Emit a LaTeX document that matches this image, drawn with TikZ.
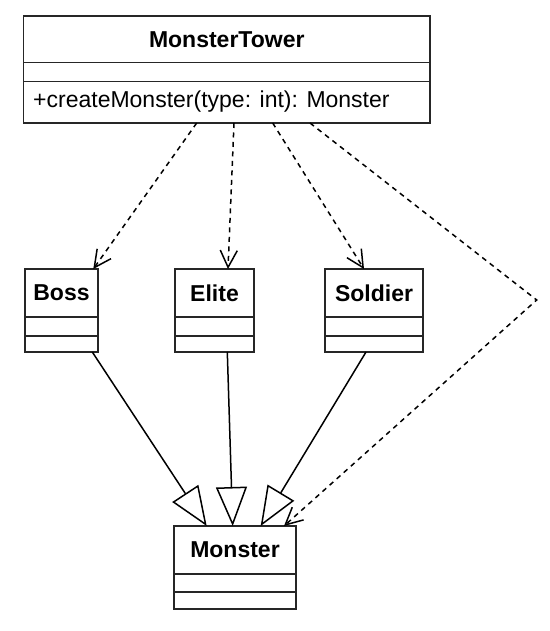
\documentclass[tikz,border=0pt]{standalone}
\usepackage{fontspec}
\setmainfont{Liberation Sans}
\usetikzlibrary{arrows.meta,calc}
\begin{document}
\begin{tikzpicture}[x=1pt,y=-1pt,
  box/.style={draw=black!85,line width=1.7pt,fill=white,inner sep=0pt,outer sep=0pt},
  sep/.style={draw=black!85,line width=1.7pt},
  title/.style={font=\fontsize{23}{27}\selectfont\bfseries,inner sep=0pt},
  member/.style={font=\fontsize{23}{27}\selectfont,inner sep=0pt,anchor=west},
  dep/.style={line width=1.5pt,dash pattern=on 5pt off 4.5pt,-{Straight Barb[length=17pt,width=17pt,line width=1.5pt]}},
  gen/.style={line width=1.5pt,-{Triangle[open,length=39pt,width=31pt,line width=1.5pt,fill=white]}}]
\useasboundingbox (0,0) rectangle (549,631);
% MonsterTower
\node[box,minimum width=406.5pt,minimum height=107pt] (tower) at (226.75,69.5) {};
\draw[sep] (23.5,62.5) -- (430,62.5) (23.5,81.5) -- (430,81.5);
\node[title] (towerT) at (226.75,40) {MonsterTower};
\node[member] (towerM) at (33,102) {+createMonster(type: int): Monster};
% Boss
\node[box,minimum width=73pt,minimum height=83pt] (boss) at (61.5,310.5) {};
\draw[sep] (25,316.7) -- (98,316.7) (25,335.7) -- (98,335.7);
\node[title] (bossT) at (61.5,293) {Boss};
% Elite
\node[box,minimum width=79pt,minimum height=83pt] (elite) at (214.5,310.5) {};
\draw[sep] (175,316.7) -- (254,316.7) (175,335.7) -- (254,335.7);
\node[title] (eliteT) at (214.5,293) {Elite};
% Soldier
\node[box,minimum width=98pt,minimum height=83pt] (soldier) at (374,310.5) {};
\draw[sep] (325,316.7) -- (423,316.7) (325,335.7) -- (423,335.7);
\node[title] (soldierT) at (374,293) {Soldier};
% Monster
\node[box,minimum width=122pt,minimum height=83pt] (monster) at (235,567.5) {};
\draw[sep] (174,574) -- (296,574) (174,592) -- (296,592);
\node[title] (monsterT) at (235,550) {Monster};
% connector points
\coordinate (t1) at (196.7,123);
\coordinate (t2) at (234,123);
\coordinate (t3) at (272.7,123);
\coordinate (t4) at (310,123);
\coordinate (bend) at (536.7,300);
\coordinate (bossIn) at (93.3,269);
\coordinate (eliteIn) at (228,269);
\coordinate (soldierIn) at (364,269);
\coordinate (monIn4) at (284,526);
\coordinate (bossOut) at (92.3,352);
\coordinate (eliteOut) at (227.3,352);
\coordinate (soldierOut) at (366,352);
\coordinate (monIn1) at (206.7,526);
\coordinate (monIn2) at (232.7,526);
\coordinate (monIn3) at (260.7,526);
% dependencies
\draw[dep] (t1) -- (bossIn);
\draw[dep] (t2) -- (eliteIn);
\draw[dep] (t3) -- (soldierIn);
\draw[dep] (t4) -- (bend) -- (monIn4);
% generalizations
\draw[gen] (bossOut) -- (monIn1);
\draw[gen] (eliteOut) -- (monIn2);
\draw[gen] (soldierOut) -- (monIn3);
\end{tikzpicture}
\end{document}
